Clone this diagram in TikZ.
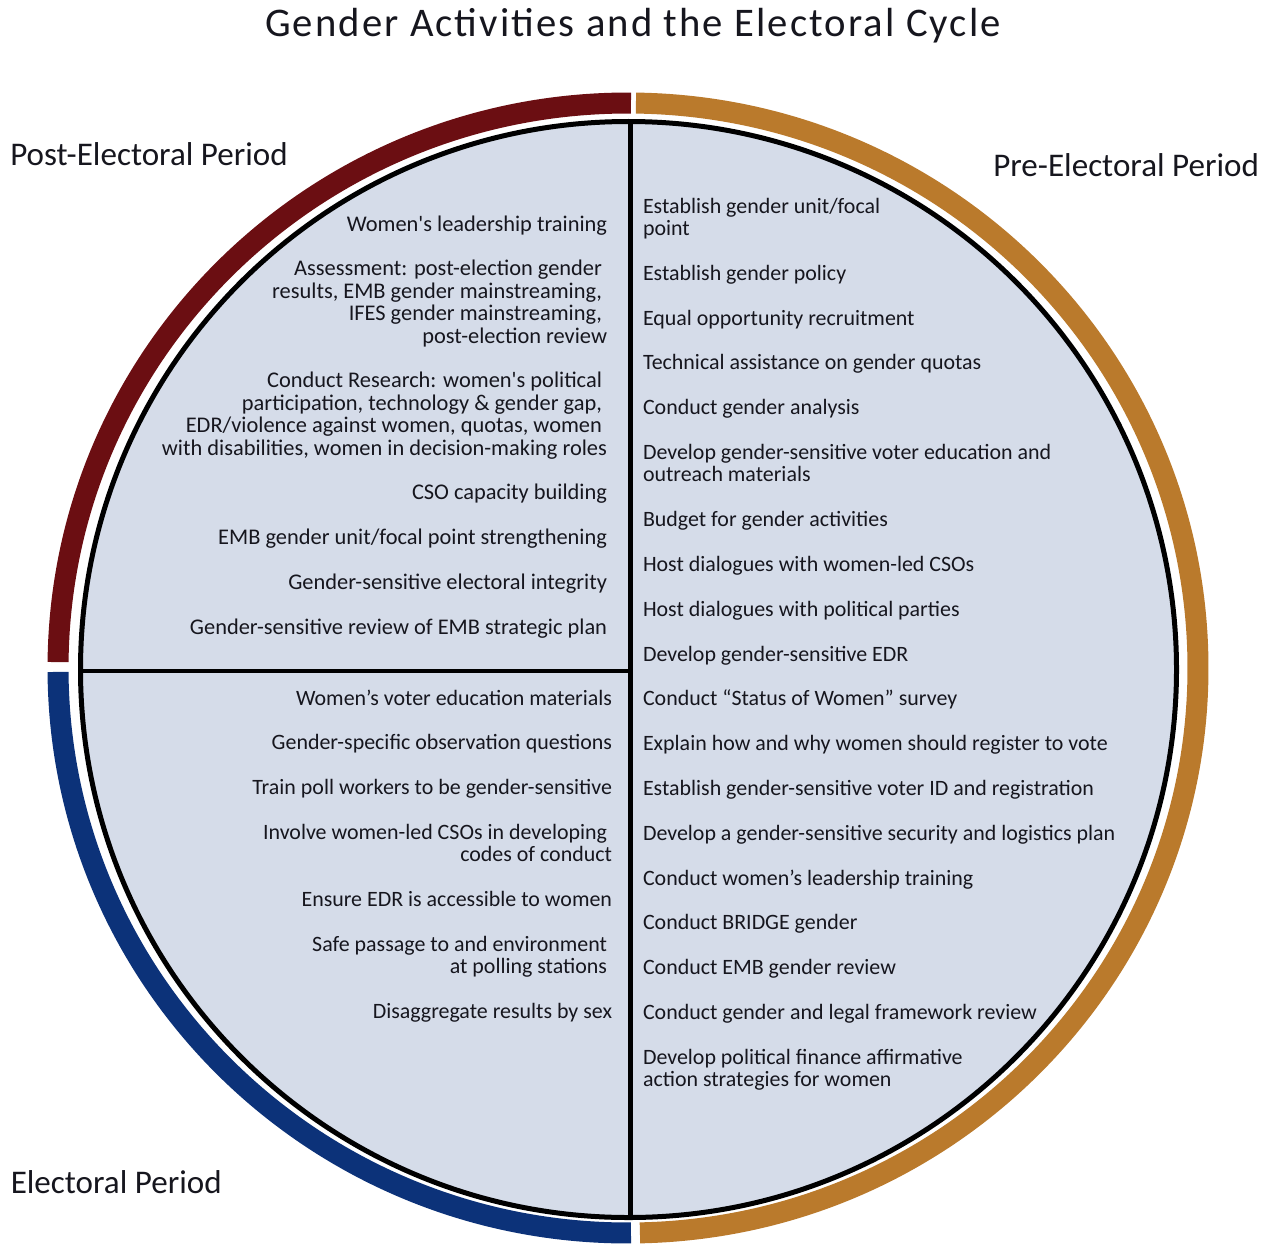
\documentclass[tikz,border=0pt]{standalone}
\usepackage{fontspec}
\setmainfont{Carlito}
\definecolor{fillc}{RGB}{213,220,233}
\definecolor{redc}{RGB}{107,14,18}
\definecolor{orc}{RGB}{186,122,44}
\definecolor{bluec}{RGB}{12,50,121}
\definecolor{txt}{RGB}{22,22,30}
\newcommand{\trail}{\kern0.226em}
\begin{document}
\begin{tikzpicture}[x=0.75pt,y=-0.75pt,
  item/.style={inner sep=0pt, outer sep=0pt, text=txt, font=\fontsize{16.45pt}{16.8pt}\selectfont},
  ritem/.style={item, anchor=base west, align=left},
  litem/.style={item, anchor=base east, align=right},
  pitem/.style={litem, font=\fontsize{16.8pt}{16.8pt}\selectfont},
  period/.style={inner sep=0pt, anchor=base west, text=txt, font=\fontsize{24.8pt}{29pt}\selectfont},
  titlestyle/.style={inner sep=0pt, anchor=base, text=txt, font=\fontsize{30.5pt}{36pt}\selectfont\addfontfeature{LetterSpace=5.2}},
  band/.style={line width=15.75pt},
  divider/.style={line width=3.4pt, black},
  rim/.style={line width=3.75pt, black}]
\useasboundingbox (0,0) rectangle (1273,1245);
\coordinate (rc) at (628,668);
\coordinate (cc) at (628.5,669.5);
% outer coloured ring
\draw[band, redc] (rc) ++(-89.7:570 and 565) arc[start angle=-89.7, end angle=-179.4, x radius=570, y radius=565];
\draw[band, bluec] (rc) ++(-180.4:570 and 565) arc[start angle=-180.4, end angle=-270.3, x radius=570, y radius=565];
\draw[band, orc] (rc) ++(-271.2:570 and 565) arc[start angle=-271.2, end angle=-449.2, x radius=570, y radius=565];
% circle
\fill[fillc] (cc) circle[radius=548];
\begin{scope}
\clip (cc) circle[radius=548];
\coordinate (vtop) at (630.5,100);
\coordinate (vbot) at (630.5,1240);
\coordinate (hleft) at (60,671);
\coordinate (hright) at (630.5,671);
\draw[divider] (vtop) -- (vbot);
\draw[divider] (hleft) -- (hright);
\end{scope}
\draw[rim] (cc) circle[radius=548];
% title and period labels
\node[titlestyle] (title) at (633,36.5) {Gender Activities and the Electoral Cycle};
\node[period] (post) at (10,166) {Post-Electoral Period};
\node[period] (pre) at (993,176.7) {Pre-Electoral Period};
\node[period] (elec) at (10.5,1193.5) {Electoral Period};
% right column
\node[ritem] (r1) at (643,235.4) {Establish gender unit/focal\\point};
\node[ritem] (r2) at (643,280.2) {Establish gender policy};
\node[ritem] (r3) at (643,325) {Equal opportunity recruitment};
\node[ritem] (r4) at (643,369.8) {Technical assistance on gender quotas};
\node[ritem] (r5) at (643,414.6) {Conduct gender analysis};
\node[ritem] (r6) at (643,481.8) {Develop gender-sensitive voter education and\\outreach materials};
\node[ritem] (r7) at (643,526.6) {Budget for gender activities};
\node[ritem] (r8) at (643,571.4) {Host dialogues with women-led CSOs};
\node[ritem] (r9) at (643,616.2) {Host dialogues with political parties};
\node[ritem] (r10) at (643,661) {Develop gender-sensitive EDR};
\node[ritem] (r11) at (643,705.8) {Conduct “Status of Women” survey};
\node[ritem] (r12) at (643,750.6) {Explain how and why women should register to vote};
\node[ritem] (r13) at (643,795.4) {Establish gender-sensitive voter ID and registration};
\node[ritem] (r14) at (643,840.2) {Develop a gender-sensitive security and logistics plan};
\node[ritem] (r15) at (643,885) {Conduct women’s leadership training};
\node[ritem] (r16) at (643,929.8) {Conduct BRIDGE gender};
\node[ritem] (r17) at (643,974.6) {Conduct EMB gender review};
\node[ritem] (r18) at (643,1019.4) {Conduct gender and legal framework review};
\node[ritem] (r19) at (643,1086.6) {Develop political finance affirmative\\action strategies for women};
% upper left column
\node[pitem] (p1) at (607,231) {Women\textquotesingle s leadership training};
\node[pitem] (p2) at (607,343) {Assessment: post-election gender\trail\\results, EMB gender mainstreaming,\trail\\IFES gender mainstreaming,\trail\\post-election review};
\node[pitem] (p3) at (607,455) {Conduct Research: women\textquotesingle s political\trail\\participation, technology \& gender gap,\trail\\EDR/violence against women, quotas, women\trail\\with disabilities, women in decision-making roles};
\node[pitem] (p4) at (607,499.8) {CSO capacity building};
\node[pitem] (p5) at (607,544.6) {EMB gender unit/focal point strengthening};
\node[pitem] (p6) at (607,589.4) {Gender-sensitive electoral integrity};
\node[pitem] (p7) at (607,634.2) {Gender-sensitive review of EMB strategic plan};
% lower left column
\node[litem] (e1) at (612,705) {Women’s voter education materials};
\node[litem] (e2) at (612,749.8) {Gender-specific observation questions};
\node[litem] (e3) at (612,794.6) {Train poll workers to be gender-sensitive};
\node[litem] (e4) at (612,861.8) {Involve women-led CSOs in developing\trail\\codes of conduct};
\node[litem] (e5) at (612,906.6) {Ensure EDR is accessible to women};
\node[litem] (e6) at (612,973.8) {Safe passage to and environment\trail\\at polling stations\trail};
\node[litem] (e7) at (612,1018.6) {Disaggregate results by sex};
\end{tikzpicture}
\end{document}
